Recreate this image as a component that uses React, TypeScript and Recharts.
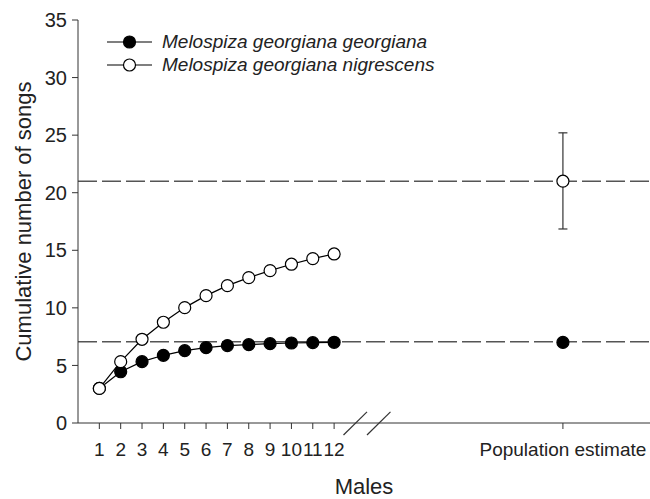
import {
  ComposedChart,
  ErrorBar,
  Label,
  Line,
  ReferenceLine,
  Scatter,
  XAxis,
  YAxis,
} from "recharts";

const males = [1, 2, 3, 4, 5, 6, 7, 8, 9, 10, 11, 12];
const georgiana = [3.0, 4.45, 5.33, 5.88, 6.28, 6.54, 6.72, 6.8, 6.89, 6.95, 6.98, 7.01];
const nigrescens = [3.0, 5.33, 7.27, 8.75, 10.02, 11.06, 11.93, 12.63, 13.23, 13.79, 14.28, 14.68];

const popX = 22.72;
const popGeorgiana = 7.0;
const popNigrescens = 21.0;
const popNigrescensErr: [number, number] = [4.15, 4.2];
const asymptotes = [21.0, 7.05];

const yTicks = [0, 5, 10, 15, 20, 25, 30, 35];
const xTicks = [...males, popX];

const seriesNames = ["Melospiza georgiana georgiana", "Melospiza georgiana nigrescens"];

// axis break slashes, in data units
const breakMarks = [
  [12.44, 13.54],
  [13.54, 14.64],
];

const rows = males.map((m, i) => ({ x: m, g: georgiana[i], n: nigrescens[i] }));
const popG = [{ x: popX, y: popGeorgiana }];
const popN = [{ x: popX, y: popNigrescens, err: popNigrescensErr }];

const font = "'Liberation Sans', Arial, sans-serif";
const ink = "#222";

const openDot = (p: any) => (
  <circle cx={p.cx} cy={p.cy} r={6} fill="#fff" stroke="#000" strokeWidth={1.2} />
);
const filledDot = (p: any) => (
  <circle cx={p.cx} cy={p.cy} r={6} fill="#000" stroke="#000" strokeWidth={1.2} />
);

function LegendBox() {
  return (
    <div style={{ position: "absolute", left: 105, top: 30, fontFamily: font }}>
      {seriesNames.map((name, i) => (
        <div key={name} style={{ display: "flex", alignItems: "center", height: 23.3 }}>
          <svg width={50} height={16}>
            <line x1={2} y1={8} x2={47} y2={8} stroke="#000" strokeWidth={1.2} />
            <circle cx={24.5} cy={8} r={6} fill={i === 0 ? "#000" : "#fff"} stroke="#000" strokeWidth={1.2} />
          </svg>
          <span style={{ marginLeft: 7, fontSize: 19, fontStyle: "italic", color: ink, whiteSpace: "nowrap" }}>
            {name}
          </span>
        </div>
      ))}
    </div>
  );
}

export default function App() {
  return (
    <div style={{ position: "absolute", left: 0, top: 0, width: 650, height: 499, background: "#fff" }}>
      <ComposedChart
        width={650}
        height={499}
        data={rows}
        margin={{ top: 20, right: 0, left: 0, bottom: 0 }}
        style={{ fontFamily: font }}
      >
        <XAxis
          dataKey="x"
          type="number"
          domain={[0, 26.8]}
          ticks={xTicks}
          interval={0}
          allowDataOverflow
          height={76}
          tickSize={6}
          tickMargin={14}
          stroke="#333"
          tick={{ fill: ink, fontSize: 19 }}
          tickFormatter={(v: number) => (v === popX ? "Population estimate" : String(v))}
        >
          <Label value="Males" position="insideBottom" offset={5} fill={ink} fontSize={22} />
        </XAxis>
        <YAxis
          type="number"
          domain={[0, 35]}
          ticks={yTicks}
          width={78}
          tickSize={6}
          tickMargin={5}
          stroke="#333"
          tick={{ fill: ink, fontSize: 20 }}
        >
          <Label
            content={({ viewBox }: any) => {
              const cy = viewBox.y + viewBox.height / 2;
              return (
                <text
                  x={31}
                  y={cy}
                  transform={`rotate(-90, 31, ${cy})`}
                  textAnchor="middle"
                  fill={ink}
                  fontSize={22}
                >
                  Cumulative number of songs
                </text>
              );
            }}
          />
        </YAxis>
        {asymptotes.map((a) => (
          <ReferenceLine key={a} y={a} stroke="#555" strokeWidth={1.4} strokeDasharray="19 5" />
        ))}
        {breakMarks.map(([x1, x2]) => (
          <ReferenceLine
            key={x1}
            segment={[
              { x: x1, y: -1.04 },
              { x: x2, y: 0.96 },
            ]}
            ifOverflow="visible"
            stroke="#333"
            strokeWidth={1.2}
          />
        ))}
        <Line
          dataKey="g"
          stroke="#000"
          strokeWidth={1.2}
          dot={filledDot}
          activeDot={false}
          isAnimationActive={false}
        />
        <Line
          dataKey="n"
          stroke="#000"
          strokeWidth={1.2}
          dot={openDot}
          activeDot={false}
          isAnimationActive={false}
        />
        <Scatter data={popG} dataKey="y" shape={filledDot} isAnimationActive={false} />
        <Scatter data={popN} dataKey="y" shape={openDot} isAnimationActive={false}>
          <ErrorBar dataKey="err" direction="y" width={4.5} stroke="#333" strokeWidth={1.2} />
        </Scatter>
      </ComposedChart>
      <LegendBox />
    </div>
  );
}
